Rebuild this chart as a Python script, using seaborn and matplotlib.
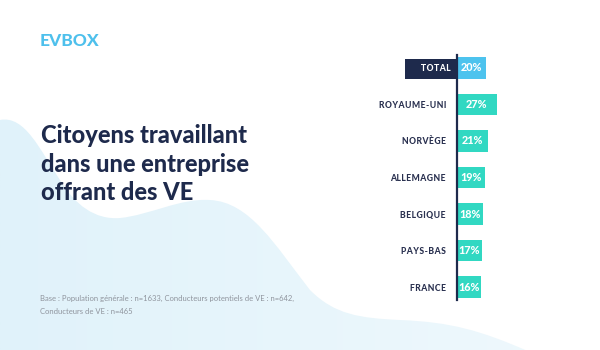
import matplotlib
matplotlib.use("Agg")
import matplotlib.pyplot as plt
import seaborn as sns
import numpy as np
import pandas as pd
from matplotlib.path import Path
from matplotlib.patches import PathPatch
from matplotlib.colors import LinearSegmentedColormap
from matplotlib.transforms import ScaledTranslation

# ---- data ----
categories = ["TOTAL", "ROYAUME-UNI", "NORVÈGE", "ALLEMAGNE", "BELGIQUE", "PAYS-BAS", "FRANCE"]
values = [20, 27, 21, 19, 18, 17, 16]
value_labels = [f"{v}%" for v in values]
title_lines = ["Citoyens travaillant", "dans une entreprise", "offrant des VE"]
footnote_lines = ["Base : Population générale : n=1633, Conducteurs potentiels de VE : n=642,",
                  "Conducteurs de VE : n=465"]
logo = "EVBOX"

NAVY = "#1E2A4C"
TEAL = "#31D8C2"
SKY = "#4DC3EE"

sns.set_theme(style="white")
plt.rcParams['font.family'] = ['Lato', 'DejaVu Sans']

W, H = 600, 350
fig = plt.figure(figsize=(6, 3.5), dpi=100)
fig.patch.set_facecolor('white')

# ---- background blob ----
bg = fig.add_axes([0, 0, 1, 1], zorder=0)
verts = [(0, 120),
         (25, 115), (40, 150), (60, 180),
         (75, 205), (95, 220), (120, 218),
         (150, 215), (180, 198), (210, 200),
         (250, 202), (275, 245), (310, 290),
         (335, 315), (360, 318), (400, 320),
         (450, 322), (480, 330), (530, 352),
         (0, 352), (0, 120)]
codes = [Path.MOVETO] + [Path.CURVE4] * 18 + [Path.LINETO, Path.CLOSEPOLY]
path = Path(verts, codes)
cmap = LinearSegmentedColormap.from_list('blob', ['#E0F2FA', '#F0F9FD'])
grad = np.linspace(0, 1, 256).reshape(1, -1)
im = bg.imshow(grad, extent=[0, W, H, 0], cmap=cmap, aspect='auto')
patch = PathPatch(path, facecolor='none', edgecolor='none', transform=bg.transData)
bg.add_patch(patch)
im.set_clip_path(patch)
bg.set_xlim(0, W)
bg.set_ylim(H, 0)
bg.axis('off')

def fx(x):
    return x / W

def fy(y):
    return 1 - y / H

def spaced(s):
    return "\u200a".join(s)

# ---- texts ----
fig.text(fx(40), fy(41), logo, fontsize=12.5, fontweight=900, color='#4EC0EC', va='center', ha='left')
for i, line in enumerate(title_lines):
    fig.text(fx(41), fy(143 + i * 28.5), line, fontsize=17.0, fontweight=900, color=NAVY,
             va='baseline', ha='left')
for i, line in enumerate(footnote_lines):
    fig.text(fx(40), fy(298 + i * 13), line, fontsize=5.5, color='#8F949D', va='center', ha='left')

# ---- bar chart ----
ax = fig.add_axes([fx(457), (H - 300) / H, 100 / W, 245 / H], zorder=2)
ax.patch.set_alpha(0)
df = pd.DataFrame({'cat': categories, 'val': values})
palette = {c: (SKY if c == "TOTAL" else TEAL) for c in categories}
sns.barplot(data=df, y='cat', x='val', hue='cat', palette=palette, order=categories,
            hue_order=categories, width=0.6, legend=False, ax=ax, orient='h',
            saturation=1, linewidth=0)
ax.set_xlim(0, 68)
ax.set_ylim(6.356, -0.356)
ax.set_xticks([])
ax.set_xlabel('')
ax.set_ylabel('')
for s in ['top', 'right', 'bottom']:
    ax.spines[s].set_visible(False)
ax.spines['left'].set_color(NAVY)
ax.spines['left'].set_linewidth(1.6)
ax.tick_params(axis='y', length=0, pad=8)
ax.set_yticks(range(len(categories)))
ax.set_yticklabels(["\u2003\u2002" + spaced(c) if c == "TOTAL" else spaced(c) for c in categories])
for lab, c in zip(ax.get_yticklabels(), categories):
    lab.set_fontsize(6.2)
    lab.set_fontweight(900)
    lab.set_color('#2A3150')
    if c == "TOTAL":
        lab.set_color('white')
        lab.set_bbox(dict(boxstyle='square,pad=0.6', facecolor=NAVY, edgecolor='none'))
        lab.set_transform(lab.get_transform() + ScaledTranslation(5 / 100, 0, fig.dpi_scale_trans))

for i, cont in enumerate(ax.containers):
    ax.bar_label(cont, labels=[value_labels[i]], label_type='center', color='white',
                 fontsize=7.8, fontweight=900)

fig.savefig("out.png", dpi=100, facecolor='white')
